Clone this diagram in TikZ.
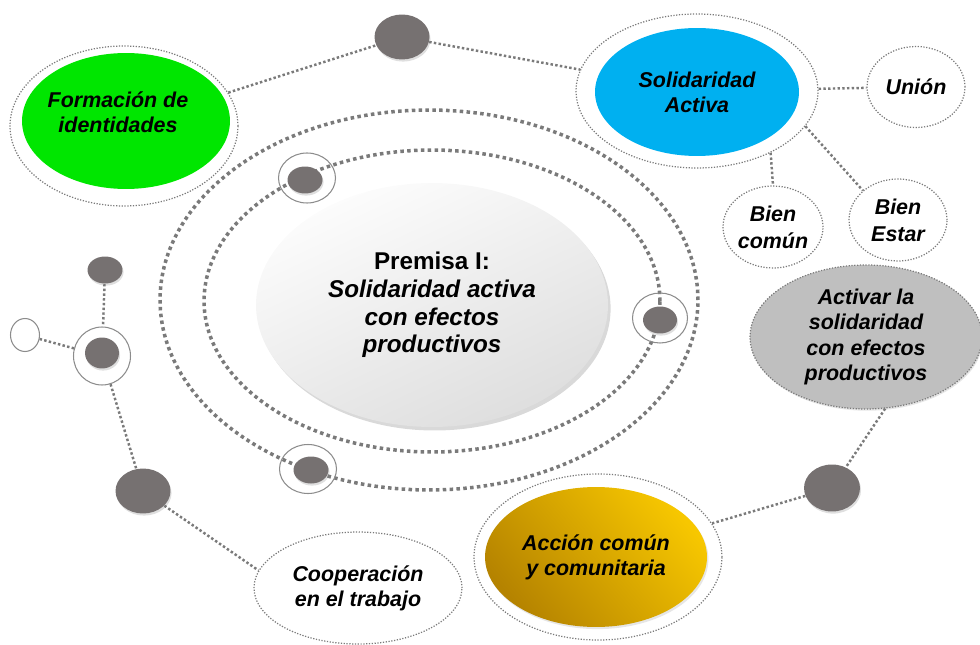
\documentclass[tikz,border=0pt]{standalone}
\usepackage{fontspec}
\setmainfont{Liberation Sans}
\usetikzlibrary{shapes.geometric,shadows}
\definecolor{dotgray}{HTML}{767171}
\definecolor{linegray}{HTML}{7A7A7A}
\definecolor{verde}{HTML}{00E600}
\definecolor{azul}{HTML}{00B0F0}
\definecolor{oroA}{HTML}{F7C700}
\definecolor{oroB}{HTML}{B58300}
\definecolor{gris}{HTML}{BFBFBF}

\begin{document}
\begin{tikzpicture}[x=0.02cm,y=-0.02cm,
  txt/.style={font=\fontsize{12.2}{14.3}\selectfont\bfseries\itshape,align=center},
  blob/.style={ellipse,inner sep=0pt},
  halo/.style={ellipse,inner sep=0pt,draw=linegray,line width=0.7pt,dash pattern=on 0.7pt off 0.9pt},
  orbit/.style={ellipse,inner sep=0pt,draw=linegray,line width=2pt,dash pattern=on 2pt off 1.9pt},
  link/.style={draw=linegray,line width=1.4pt,dash pattern=on 1.4pt off 1.3pt},
  dot/.style={ellipse,inner sep=0pt,fill=dotgray,drop shadow={opacity=0.25,shadow xshift=0.6pt,shadow yshift=-1.2pt}},
  ring/.style={ellipse,inner sep=0pt,draw=black!45,line width=0.6pt}]
\useasboundingbox (0,0) rectangle (980,645);

\node[orbit,minimum width=10.76cm,minimum height=7.6cm] (OO) at (429, 300) {};
\node[orbit,minimum width=9.12cm,minimum height=6.04cm] (OI) at (432, 301) {};

\node[blob,minimum width=7.04cm,minimum height=4.88cm,top color=black!1,bottom color=black!13,shading angle=25,
  drop shadow={opacity=0.3,shadow xshift=1.5pt,shadow yshift=-2pt},
  font=\fontsize{13.8}{15.8}\selectfont\bfseries,align=center] (PI) at (432, 305)
  {Premisa I:\\\itshape Solidaridad activa\\\itshape con efectos\\\itshape productivos};

\node[ring,minimum width=1.14cm,minimum height=1cm] (R1) at (307, 178) {};
\node[dot,minimum width=0.7cm,minimum height=0.54cm] (D1) at (305, 180) {};
\node[ring,minimum width=1.1cm,minimum height=1cm] (R2) at (660, 318) {};
\node[dot,minimum width=0.68cm,minimum height=0.54cm] (D2) at (660, 320) {};
\node[ring,minimum width=1.14cm,minimum height=0.98cm] (R3) at (308, 469) {};
\node[dot,minimum width=0.7cm,minimum height=0.54cm] (D3) at (311, 470) {};

\node[blob,fill=verde,minimum width=4.16cm,minimum height=2.72cm] (F) at (126, 121) {};
\node[txt] at (118, 112) {Formación de\\identidades};
\node[halo,minimum width=4.56cm,minimum height=3.2cm] (FH) at (124, 126) {};

\node[blob,fill=azul,minimum width=4.08cm,minimum height=2.56cm,txt] (SA) at (697, 92) {Solidaridad\\Activa};
\node[halo,minimum width=4.84cm,minimum height=3.08cm] (SAH) at (697, 91) {};

\node[halo,minimum width=1.96cm,minimum height=1.62cm,txt] (U) at (916, 87) {Unión};
\node[halo,minimum width=2cm,minimum height=1.64cm,txt,font=\fontsize{12.2}{15.3}\selectfont\bfseries\itshape] (BC) at (773, 227) {Bien\\común};
\node[halo,minimum width=1.96cm,minimum height=1.64cm,txt,font=\fontsize{12.2}{15.3}\selectfont\bfseries\itshape] (BE) at (898, 220) {Bien\\Estar};

\node[halo,fill=gris,minimum width=4.64cm,minimum height=2.88cm,txt,
  drop shadow={opacity=0.2,shadow xshift=0.6pt,shadow yshift=-1pt}] (AS) at (866, 337)
  {Activar la\\solidaridad\\con efectos\\productivos};

\node[blob,top color=oroA,bottom color=oroB,shading angle=-50,minimum width=4.44cm,minimum height=2.8cm,txt,
  drop shadow={opacity=0.2,shadow xshift=0.8pt,shadow yshift=-1.2pt}] (AC) at (596, 557) {Acción común\\y comunitaria};
\node[halo,minimum width=4.96cm,minimum height=3.32cm] (ACH) at (598, 557) {};

\node[halo,minimum width=4.16cm,minimum height=2.24cm,txt] (C) at (358, 588) {Cooperación\\en el trabajo};

\node[dot,minimum width=1.1cm,minimum height=0.9cm] (DT) at (402, 37) {};
\node[dot,minimum width=1.12cm,minimum height=0.94cm] (DR) at (832, 488) {};
\node[dot,minimum width=1.1cm,minimum height=0.9cm] (DL) at (143, 491) {};
\node[dot,minimum width=0.7cm,minimum height=0.54cm] (DS) at (105, 270) {};
\node[ring,minimum width=1.14cm,minimum height=1.16cm] (RL) at (102, 356) {};
\node[dot,minimum width=0.68cm,minimum height=0.62cm] (DM) at (102, 353) {};
\node[ring,minimum width=0.58cm,minimum height=0.66cm] (W) at (25, 335) {};

\draw[link] (FH) -- (DT);
\draw[link] (DT) -- (SAH);
\draw[link] (SAH) -- (U);
\draw[link] (SAH.-40) -- (BC.north);
\draw[link] (SAH.-18) -- (BE.north west);
\draw[link] (AS.-75) -- (DR);
\draw[link] (DR) -- (ACH);
\draw[link] (DS) -- (RL);
\draw[link] (W) -- (RL);
\draw[link] (RL) -- (DL);
\draw[link] (DL) -- (C.170);
\end{tikzpicture}
\end{document}
